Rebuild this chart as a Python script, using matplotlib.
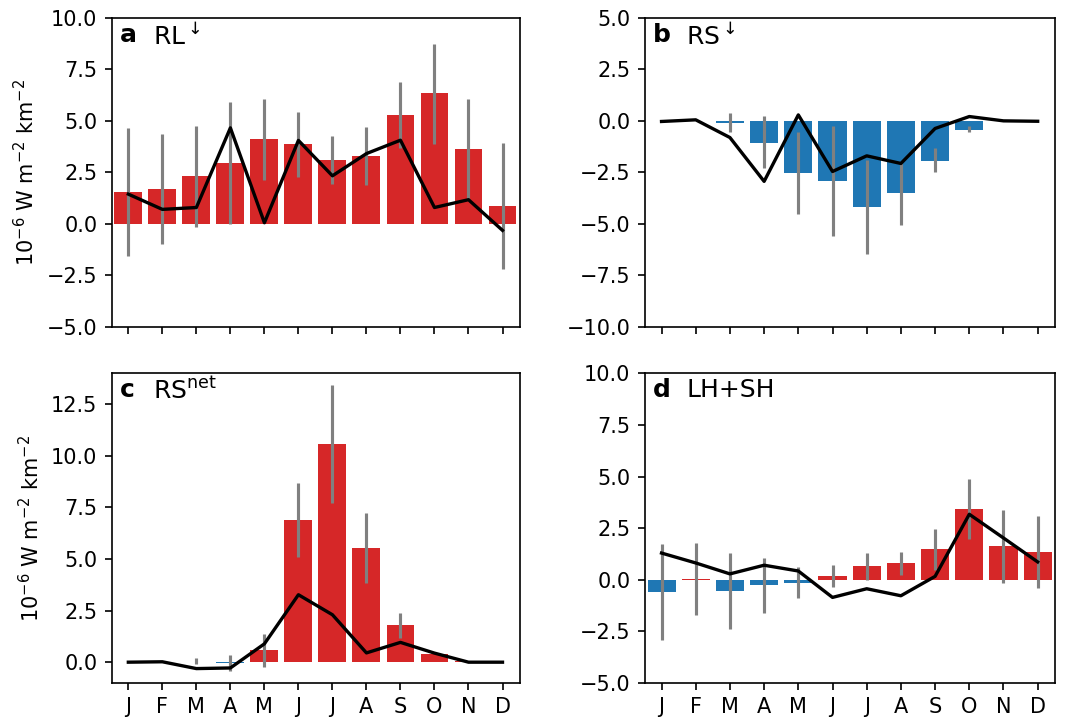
import numpy as np
import matplotlib
matplotlib.use("Agg")
import matplotlib.pyplot as plt

plt.rcParams['font.size'] = 8

months = ['J', 'F', 'M', 'A', 'M', 'J', 'J', 'A', 'S', 'O', 'N', 'D']
ylab = r'10$^{-6}$ W m$^{-2}$ km$^{-2}$'

# panel a: RL down
rl_bar = [1.52, 1.68, 2.31, 2.94, 4.11, 3.87, 3.09, 3.28, 5.27, 6.33, 3.62, 0.86]
rl_lo = [-1.59, -0.97, -0.15, 0.0, 2.12, 2.28, 1.94, 1.88, 3.66, 3.90, 1.18, -2.18]
rl_hi = [4.64, 4.35, 4.76, 5.92, 6.04, 5.45, 4.26, 4.71, 6.88, 8.72, 6.04, 3.92]
rl_line = [1.44, 0.70, 0.79, 4.66, 0.05, 4.05, 2.33, 3.41, 4.06, 0.79, 1.17, -0.32]

# panel b: RS down
rs_bar = [-0.03, 0.01, -0.10, -1.07, -2.52, -2.91, -4.17, -3.50, -1.94, -0.44, -0.02, 0.005]
rs_lo = [0.0, 0.0, -0.53, -2.31, -4.51, -5.58, -6.46, -5.06, -2.49, -0.55, 0.0, 0.0]
rs_hi = [0.0, 0.0, 0.36, 0.23, -0.53, -0.26, -1.91, -2.07, -1.34, -0.26, 0.0, 0.0]
rs_line = [-0.03, 0.05, -0.81, -2.94, 0.29, -2.46, -1.70, -2.07, -0.37, 0.21, 0.0, -0.02]

# panel c: RS net
rn_bar = [-0.01, 0.02, 0.03, -0.05, 0.57, 6.88, 10.57, 5.52, 1.78, 0.42, 0.06, 0.01]
rn_lo = [0.0, 0.0, -0.11, -0.44, -0.21, 5.10, 7.72, 3.84, 1.17, 0.42, 0.0, 0.0]
rn_hi = [0.0, 0.0, 0.19, 0.37, 1.38, 8.68, 13.42, 7.21, 2.36, 0.42, 0.0, 0.0]
rn_line = [0.0, 0.02, -0.31, -0.28, 0.89, 3.27, 2.30, 0.45, 0.96, 0.44, 0.0, 0.0]

# panel d: LH+SH
hf_bar = [-0.60, 0.02, -0.55, -0.28, -0.16, 0.16, 0.65, 0.79, 1.47, 3.41, 1.62, 1.33]
hf_lo = [-2.94, -1.73, -2.39, -1.60, -0.89, -0.36, 0.0, 0.21, 0.45, 1.96, -0.15, -0.40]
hf_hi = [1.72, 1.76, 1.28, 1.04, 0.60, 0.70, 1.29, 1.33, 2.44, 4.90, 3.40, 3.07]
hf_line = [1.29, 0.81, 0.28, 0.70, 0.42, -0.86, -0.44, -0.78, 0.16, 3.17, 2.02, 0.86]

panels = [
    ('a', r'RL$^{\downarrow}$', rl_bar, rl_lo, rl_hi, rl_line, (-5, 10)),
    ('b', r'RS$^{\downarrow}$', rs_bar, rs_lo, rs_hi, rs_line, (-10, 5)),
    ('c', r'RS$^{\rm net}$', rn_bar, rn_lo, rn_hi, rn_line, (-1.0, 14.0)),
    ('d', 'LH+SH', hf_bar, hf_lo, hf_hi, hf_line, (-5, 10)),
]

fig = plt.figure(figsize=(7.18, 4.7867), dpi=150)
boxes = [
    [0.104, 0.545, 0.379, 0.430],
    [0.599, 0.545, 0.381, 0.430],
    [0.104, 0.049, 0.379, 0.431],
    [0.599, 0.049, 0.381, 0.431],
]
x = np.arange(12)
for i, (lab, name, bar, lo, hi, line, ylim) in enumerate(panels):
    ax = fig.add_axes(boxes[i])
    bar = np.array(bar)
    colors = ['#d62728' if v >= 0 else '#1f77b4' for v in bar]
    ax.bar(x, bar, width=0.82, color=colors, zorder=1)
    ax.vlines(x, lo, hi, color='gray', lw=1.5, zorder=2)
    ax.plot(x, line, color='k', lw=1.6, zorder=3)
    ax.set_xlim(-0.48, 11.52)
    ax.set_ylim(*ylim)
    ax.set_xticks(x)
    if i >= 2:
        ax.set_xticklabels(months, fontsize=10)
    else:
        ax.set_xticklabels([])
    if i != 2:
        ax.set_yticks(np.arange(ylim[0], ylim[1] + 0.1, 2.5))
    else:
        ax.set_yticks(np.arange(0, 12.6, 2.5))
    ax.tick_params(labelsize=10)
    if i % 2 == 0:
        ax.set_ylabel(ylab, fontsize=10)
    ax.text(0.02, 0.985, lab, transform=ax.transAxes, fontsize=12,
            fontweight='bold', va='top', ha='left')
    ax.text(0.1, 0.985, name, transform=ax.transAxes, fontsize=12,
            va='top', ha='left')

fig.savefig('out.png', dpi=150)
